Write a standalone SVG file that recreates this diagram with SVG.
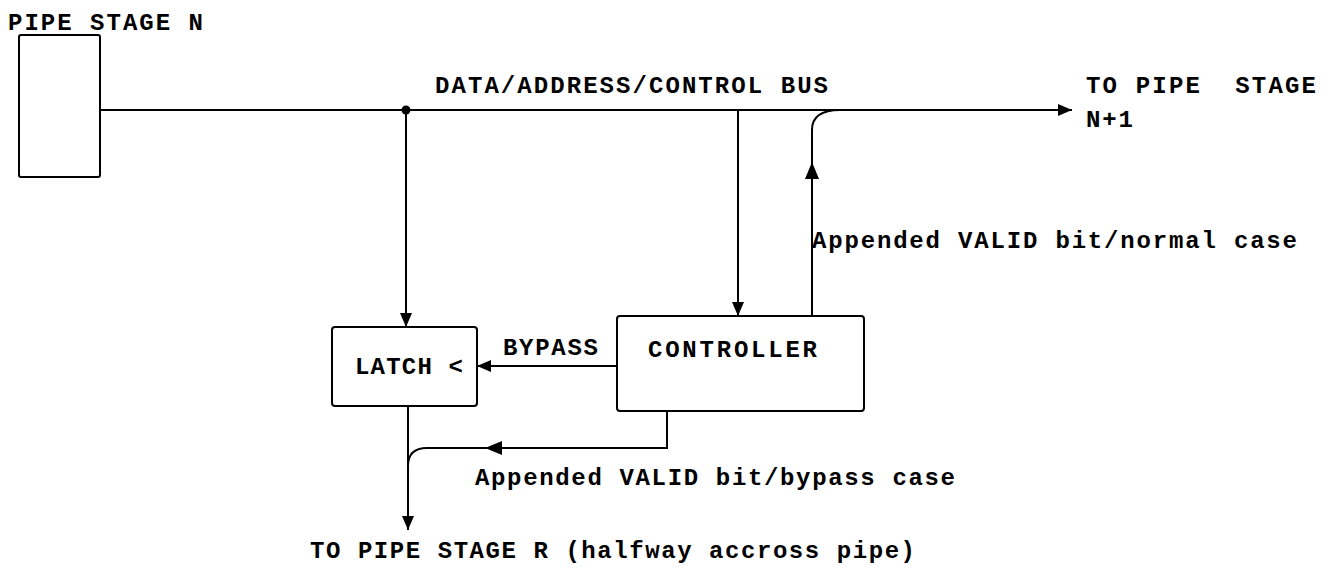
<svg xmlns="http://www.w3.org/2000/svg" width="1327" height="577" viewBox="0 0 1327 577">
<defs>
<style>
text{font-family:"Liberation Mono","Courier New",monospace;font-size:24px;font-weight:bold;fill:#000;}
.box{fill:#fff;stroke:#000;stroke-width:2;}
.ln{fill:none;stroke:#000;stroke-width:2;}
</style>
<marker id="ah" viewBox="0 0 14 12" refX="14" refY="6" markerWidth="14" markerHeight="12" markerUnits="userSpaceOnUse" orient="auto">
<path d="M0,0 L14,6 L0,12 Z" fill="#000"/>
</marker>
</defs>
<rect width="1327" height="577" fill="#fff"/>
<g id="connectors">
<path class="ln" d="M100,110 L1072,110" marker-end="url(#ah)"/>
<circle cx="406" cy="110" r="4.5" fill="#000"/>
<path class="ln" d="M406,110 L406,327" marker-end="url(#ah)"/>
<path class="ln" d="M738,110 L738,316" marker-end="url(#ah)"/>
<path class="ln" d="M812,316 L812,130 Q812,110 840,110"/>
<path d="M805,179 L812,162 L819,179 Z" fill="#000"/>
<path class="ln" d="M617,366 L477,366" marker-end="url(#ah)"/>
<path class="ln" d="M667,411 L667,448 L427,448 Q408,448 408,466"/>
<path d="M502,441 L485,448 L502,455 Z" fill="#000"/>
<path class="ln" d="M408,406 L408,530" marker-end="url(#ah)"/>
</g>
<g id="pipe-stage-n">
<rect class="box" x="19" y="35" width="81" height="142" rx="2"/>
<text x="8" y="30" textLength="195">PIPE STAGE N</text>
</g>
<g id="latch">
<rect class="box" x="332" y="327" width="145" height="79" rx="3"/>
<text x="355" y="374" textLength="108">LATCH &lt;</text>
</g>
<g id="controller">
<rect class="box" x="617" y="316" width="247" height="95" rx="3"/>
<text x="648" y="357" textLength="169">CONTROLLER</text>
</g>
<g id="labels">
<text x="435" y="93" textLength="393">DATA/ADDRESS/CONTROL BUS</text>
<text x="1086" y="93" textLength="230" xml:space="preserve">TO PIPE  STAGE</text>
<text x="1086" y="127" textLength="47">N+1</text>
<text x="812" y="248" textLength="485">Appended VALID bit/normal case</text>
<text x="503" y="355" textLength="95">BYPASS</text>
<text x="475" y="485" textLength="480">Appended VALID bit/bypass case</text>
<text x="310" y="558" textLength="605">TO PIPE STAGE R (halfway accross pipe)</text>
</g>
</svg>
